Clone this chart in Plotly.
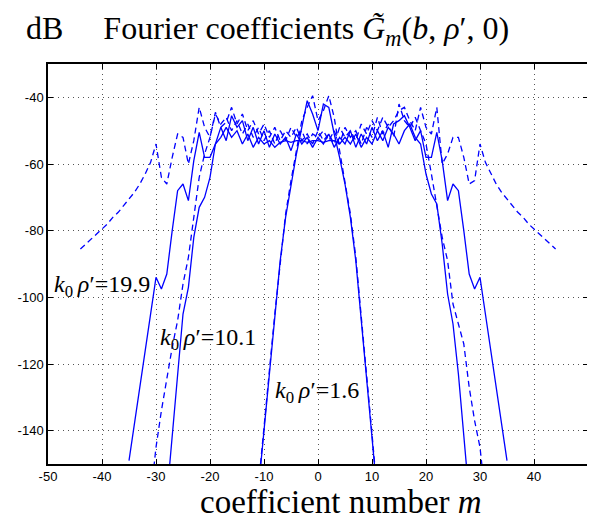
import plotly.graph_objects as go

# ---- data ----
m_19d = list(range(-44, 45))
g_19d = [-85.5, -84, -82.5, -81, -79.5, -78, -76, -74.5, -72.5, -70.5, -68.5, -66, -63, -59.5,
         -54, -64, -66, -58, -51, -52, -60, -53, -43, -49, -52, -44.5, -49, -47.5, -43, -48,
         -45, -50, -47, -51, -48, -52, -49, -53, -50, -52, -49, -53, -51, -54,
         -50,
         -53, -51, -54, -49, -52, -50, -53, -48, -51, -47, -50, -46, -49, -47, -44,
         -43, -47, -50, -43, -49, -51, -43, -60, -57, -52, -52, -58, -66, -65, -54,
         -59.5, -63, -66, -68.5, -70.5, -72.5, -74.5, -76, -78, -79.5, -81, -82.5, -84, -85.5]

m_19s = list(range(-35, 36))
g_19s = [-149, -138, -127, -116, -105, -94, -97.5, -93, -80, -68, -66, -71, -59, -50.5, -58,
         -58, -54, -49, -53, -45.5, -49, -47, -53, -49, -54, -50, -55, -51, -54, -52, -56,
         -51, -54, -52, -55,
         -52,
         -54, -51, -55, -52, -54, -50, -55, -51, -54, -49, -53, -50, -55, -48, -47, -45.5,
         -49, -53, -50, -58, -58, -50.5, -59, -71, -66, -68, -80, -93, -97.5, -94, -105,
         -116, -127, -138, -149]

m_10s = list(range(-28, 29))
g_10s = [-160, -141, -122, -105, -97, -82, -73, -70, -64, -54, -52, -49, -52, -50, -54, -51,
         -55, -52, -54, -53, -55, -53.5, -53, -53.5, -53, -53, -53.5, -53,
         -53,
         -53.5, -53, -53, -54, -52, -54, -51, -55, -52, -54, -50, -53, -49, -51, -54, -50,
         -48, -52, -54, -63, -69, -72, -84, -99, -108, -123, -141, -160]

m_10d = list(range(-31, 32))
g_10d = [-160, -145, -134, -124, -115, -107, -96, -88, -76, -64, -57, -52, -45, -48, -46,
         -50, -47, -51, -48, -52, -49, -53, -50, -54, -50, -53, -49, -52, -50, -54, -51,
         -52,
         -50, -53, -50, -54, -49, -52, -50, -54, -49, -52, -46, -51, -48, -52, -42, -47,
         -49, -46, -50, -54, -63, -72, -82, -89, -102, -108, -114, -127, -137, -145, -160]

m_16s = list(range(-11, 12))
g_16s = [-157, -139, -123, -106, -89, -76, -66, -57, -49, -41, -45, -50, -42, -43, -51,
         -58, -66, -76, -89, -106, -123, -142, -160]

m_16d = list(range(-11, 12))
g_16d = [-156, -138, -122, -105, -89, -75, -65, -56, -47, -43, -39.5, -47, -44, -39.5, -46,
         -56, -65, -75, -88, -105, -122, -141, -159]

x_ticks = [-50, -40, -30, -20, -10, 0, 10, 20, 30, 40, 50]
y_ticks = [-140, -120, -100, -80, -60, -40]

labels = ["<i>k</i><sub>0</sub>\u2009<i>ρ</i>′=19.9", "<i>k</i><sub>0</sub>\u2009<i>ρ</i>′=10.1",
          "<i>k</i><sub>0</sub>\u2009<i>ρ</i>′=1.6"]
label_x = [-49.3, -29.6, -8.3]
label_y = [-96.5, -112.5, -128.3]

BLUE = "#0000ff"
fig = go.Figure()
series = [
    (m_19d, g_19d, "6px,4px"),
    (m_19s, g_19s, "solid"),
    (m_10d, g_10d, "6px,4px"),
    (m_10s, g_10s, "solid"),
    (m_16d, g_16d, "6px,4px"),
    (m_16s, g_16s, "solid"),
]
for xs, ys, dash in series:
    fig.add_trace(go.Scatter(x=xs, y=ys, mode="lines",
                             line=dict(color=BLUE, width=1.3, dash=dash),
                             showlegend=False, hoverinfo="skip"))

axis_common = dict(showline=True, linecolor="black", linewidth=1.5, mirror="allticks",
                   ticks="inside", ticklen=5, tickcolor="black", showgrid=True,
                   gridcolor="#555555", gridwidth=1, griddash="1px,4px", zeroline=False,
                   automargin=False,
                   tickfont=dict(family="Liberation Sans, Arial, sans-serif", size=13, color="black"))

fig.update_xaxes(range=[-50, 50], tickvals=x_ticks, ticktext=[str(v) for v in x_ticks], **axis_common)
fig.update_yaxes(range=[-150, -30], tickvals=y_ticks, ticktext=[str(v) for v in y_ticks], **axis_common)

# page has an 8px body margin: plot area should land at x 48..588, y 64..464 of the window
serif = "Liberation Serif, DejaVu Serif, serif"
ann = []
ann.append(dict(text="dB&nbsp;&nbsp;&nbsp;&nbsp;&nbsp;Fourier coefficients <i>G\u0303</i><sub><i>m</i></sub>(<i>b</i>, <i>ρ</i>′, 0)",
                xref="paper", yref="paper", x=(24 - 48) / 540, y=1 + (64 - 31) / 400,
                xanchor="left", yanchor="middle",
                showarrow=False, font=dict(family=serif, size=32, color="black")))
ann.append(dict(text="coefficient number <i>m</i>", xref="paper", yref="paper",
                x=(341 - 48) / 540, y=-(522 - 464) / 400, xanchor="center", yanchor="bottom",
                showarrow=False, font=dict(family=serif, size=33, color="black")))
for t, lx, ly in zip(labels, label_x, label_y):
    ann.append(dict(text=t, x=lx, y=ly, xref="x", yref="y", xanchor="left", yanchor="middle",
                    showarrow=False, font=dict(family=serif, size=24, color="black")))

fig.update_layout(width=587, height=512, margin=dict(l=40, r=7, t=56, b=56),
                  paper_bgcolor="white", plot_bgcolor="white", annotations=ann)

fig.write_html("out.html")
